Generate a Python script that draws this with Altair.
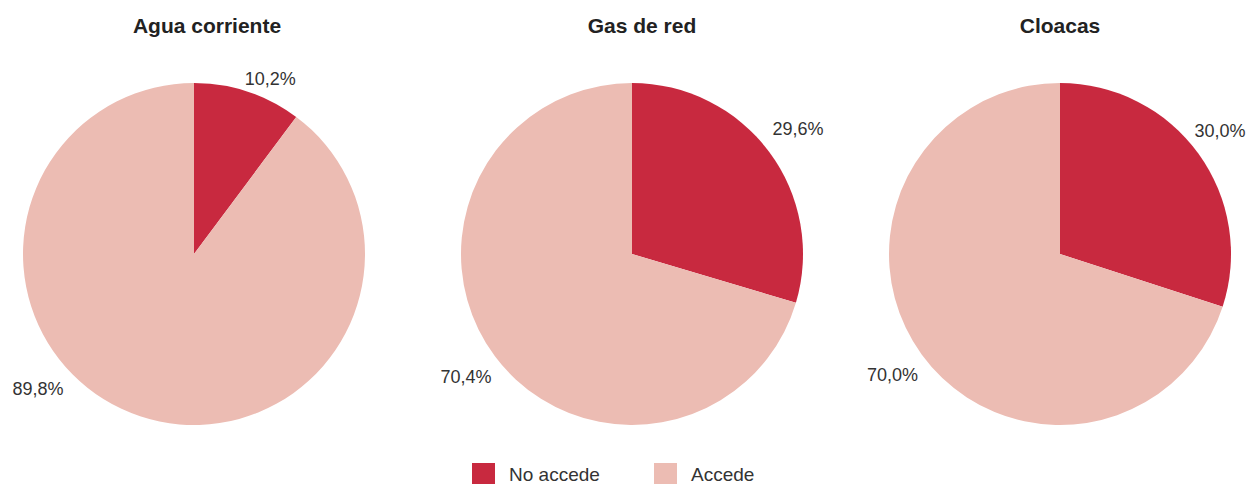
import altair as alt
import pandas as pd

# ---- data ----
services = ["Agua corriente", "Gas de red", "Cloacas"]
categories = ["No accede", "Accede"]
no_accede = [10.2, 29.6, 30.0]
accede = [89.8, 70.4, 70.0]

# ---- style ----
colors = ["#C8293F", "#ECBCB3"]
FONT = "Liberation Sans"
W, H = 1239, 476
pie_cx = [186, 624, 1052]
title_cx = [199, 634, 1052]
CY = 246
R = 171
LR = 207      # label distance from centre
YT = 174      # labels kept below this distance above the centre
LRT = 190     # label distance used when a label is held down at the top
YB = 136      # labels kept above this distance below the centre
XR = W - 27   # labels kept inside the right edge

rows = []
for s, n, a in zip(services, no_accede, accede):
    rows.append({"service": s, "category": categories[0], "value": n, "ord": 0})
    rows.append({"service": s, "category": categories[1], "value": a, "ord": 1})
df = pd.DataFrame(rows)

theta_scale = alt.Scale(domain=[0, 100])
color = alt.Color(
    "category:N",
    scale=alt.Scale(domain=categories, range=colors),
    title=None,
    legend=alt.Legend(
        orient="none", legendX=464, legendY=455, direction="horizontal",
        symbolType="square", symbolSize=529, symbolStrokeWidth=0, symbolOpacity=1,
        labelFontSize=19, labelFont=FONT, labelColor="#333333",
        labelOffset=14, columnPadding=54,
    ),
)

layers = []
for i, s in enumerate(services):
    cx = pie_cx[i]
    base = alt.Chart(df).transform_filter(alt.datum.service == s)
    arc = base.mark_arc(radius=R).encode(
        theta=alt.Theta("value:Q", stack=True, scale=theta_scale),
        color=color,
        order=alt.Order("ord:Q"),
        x=alt.value(cx),
        y=alt.value(CY),
    )
    lab = (
        base.transform_window(cum="sum(value)", sort=[alt.SortField("ord")])
        .transform_calculate(a="(datum.cum - datum.value/2)/100*2*PI")
        .transform_calculate(
            dx0=f"{LR}*sin(datum.a)",
            dy0=f"-{LR}*cos(datum.a)",
        )
        .transform_calculate(
            sg="sin(datum.a) < 0 ? -1 : 1",
        )
        .transform_calculate(
            dy1=f"datum.dy0 > {YB} ? {YB} : (datum.dy0 < -{YT} ? -{YT} : datum.dy0)",
            dx1=(f"datum.dy0 > {YB} ? datum.sg*sqrt({LR}*{LR} - {YB}*{YB}) : "
                 f"(datum.dy0 < -{YT} ? datum.sg*sqrt({LRT}*{LRT} - {YT}*{YT}) : datum.dx0)"),
        )
        .transform_calculate(dx2=f"min(datum.dx1, {XR - cx})")
        .transform_calculate(
            lr="sqrt(datum.dx2*datum.dx2 + datum.dy1*datum.dy1)",
            ang0="atan2(datum.dx2, -datum.dy1)",
        )
        .transform_calculate(
            lp="(datum.ang0 < 0 ? datum.ang0 + 2*PI : datum.ang0)/(2*PI)*100",
            txt="replace(format(datum.value, '.1f'), '.', ',') + '%'",
        )
        .mark_text(fontSize=18, font=FONT, color="#333333",
                   align="center", baseline="middle")
        .encode(
            theta=alt.Theta("lp:Q", scale=theta_scale),
            radius=alt.Radius("lr:Q", scale=None),
            text="txt:N",
            x=alt.value(cx),
            y=alt.value(CY),
        )
    )
    title = (
        base.transform_filter(alt.datum.ord == 0)
        .mark_text(fontSize=21, fontWeight="bold", font=FONT, color="#222222",
                   align="center", baseline="middle")
        .encode(text="service:N", x=alt.value(title_cx[i]), y=alt.value(19))
    )
    layers += [arc, lab, title]

chart = (
    alt.layer(*layers)
    .properties(width=W, height=H, padding=0,
                autosize=alt.AutoSizeParams(type="none"))
    .configure_view(strokeWidth=0)
)

chart.save("out.html", embed_options={"renderer": "svg", "actions": False})
